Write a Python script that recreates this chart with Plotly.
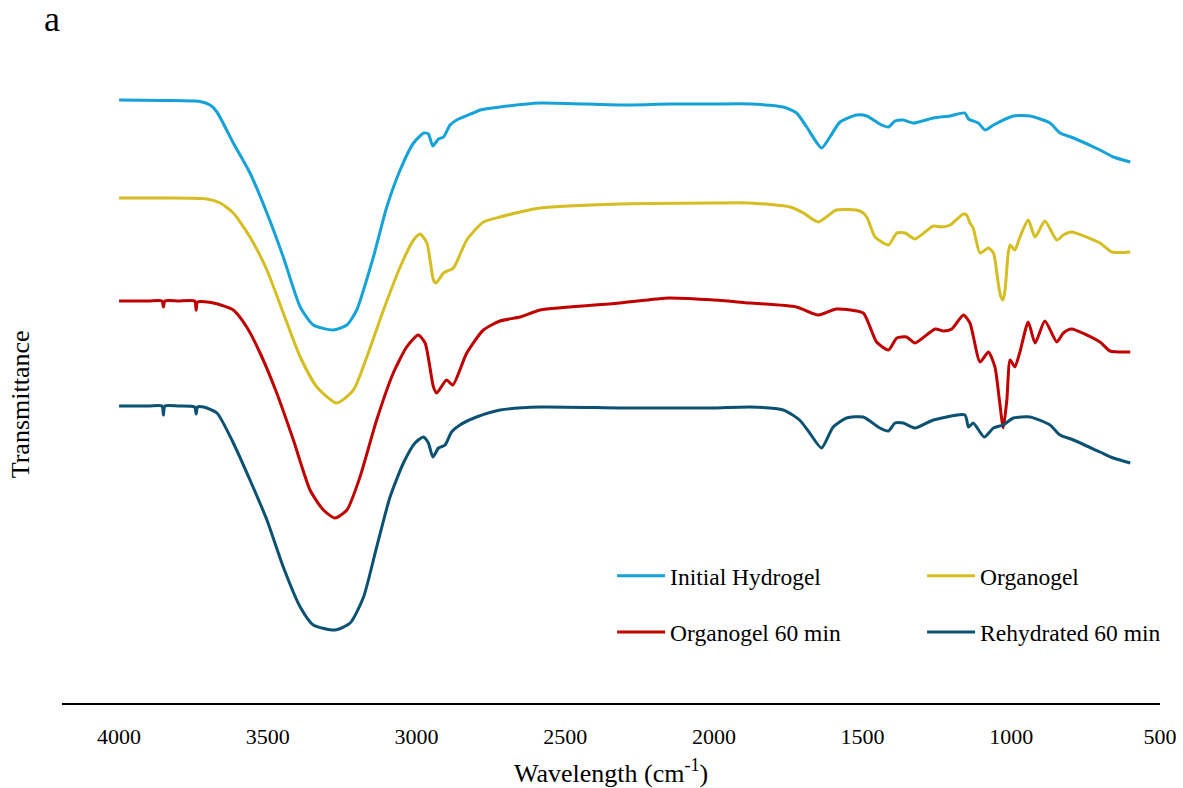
import plotly.graph_objects as go

# Wavenumber (cm-1) and transmittance (arbitrary, offset units)
wn_initial = [4000, 3850, 3728, 3694, 3671, 3616, 3560, 3503, 3448, 3391, 3347, 3280, 3234, 3201, 3145,
              3100, 3055, 3010, 2975, 2960, 2945, 2926, 2909, 2887, 2865, 2809, 2786, 2719, 2584, 2316,
              2150, 2000, 1878, 1767, 1722, 1688, 1638, 1610, 1576, 1520, 1486, 1436, 1413, 1391, 1363,
              1329, 1262, 1206, 1156, 1144, 1111, 1088, 1060, 993, 937, 870, 836, 791, 702, 657, 600]
t_initial = [700, 699.5, 698.5, 695, 688, 657, 627, 587, 543, 493, 475, 470, 475, 490, 543,
             593, 630, 657, 667, 666, 654, 661, 663, 675, 680, 687, 690, 693, 697, 695,
             696, 696, 696, 693, 687, 673, 652, 663, 678, 685, 684, 675, 673, 679, 680,
             677, 682, 684, 687, 681, 677, 670, 675, 684, 684, 677, 667, 662, 650, 643, 638]

wn_organo = [4000, 3850, 3705, 3660, 3616, 3560, 3503, 3448, 3391, 3335, 3268, 3212, 3167, 3111, 3055,
             3010, 2988, 2965, 2943, 2934, 2909, 2876, 2831, 2775, 2719, 2652, 2584, 2316, 2000, 1878,
             1744, 1699, 1649, 1588, 1509, 1486, 1458, 1413, 1385, 1357, 1324, 1262, 1234, 1206, 1161,
             1150, 1139, 1128, 1105, 1077, 1060, 1044, 1036, 1028, 1021, 1010, 1004, 988, 971, 943,
             920, 887, 847, 825, 798, 702, 662, 600]
t_organo = [602, 602, 601, 597, 587, 563, 530, 487, 443, 413, 397, 410, 443, 490, 533,
            560, 566, 557, 520, 517, 527, 532, 560, 578, 583, 588, 592, 596, 597, 597,
            593, 587, 578, 590, 589, 583, 563, 555, 567, 567, 561, 574, 573, 575, 586,
            585, 577, 572, 547, 552, 547, 517, 504, 500, 510, 548, 555, 550, 563, 580,
            563, 579, 560, 565, 568, 557, 548, 548]

wn_organo60 = [4000, 3900, 3856, 3851, 3846, 3800, 3746, 3741, 3736, 3683, 3616, 3571, 3526, 3470, 3414,
               3358, 3313, 3274, 3234, 3190, 3134, 3078, 3033, 2994, 2971, 2943, 2932, 2899, 2878, 2831,
               2775, 2719, 2652, 2584, 2316, 2150, 2000, 1878, 1722, 1649, 1588, 1498, 1475, 1453, 1413,
               1385, 1352, 1324, 1256, 1228, 1200, 1161, 1139, 1105, 1077, 1055, 1040, 1027, 1015, 1004,
               988, 971, 943, 920, 887, 847, 825, 798, 702, 668, 600]
t_organo60 = [499, 499, 499, 493, 499, 499, 499, 490, 498, 497, 490, 473, 447, 407, 360,
              310, 290, 282, 290, 323, 380, 427, 453, 465, 457, 413, 407, 420, 415, 447,
              470, 479, 483, 490, 497, 502, 500, 497, 493, 485, 491, 487, 473, 458, 450,
              462, 463, 457, 471, 469, 471, 485, 477, 438, 448, 433, 400, 372, 400, 440,
              433, 448, 478, 457, 479, 458, 467, 471, 458, 449, 448]

wn_rehyd = [4000, 3900, 3856, 3851, 3846, 3800, 3746, 3741, 3736, 3716, 3671, 3616, 3560, 3503, 3448,
            3391, 3347, 3274, 3223, 3178, 3134, 3089, 3044, 3005, 2977, 2960, 2945, 2926, 2904, 2882,
            2854, 2798, 2719, 2584, 2316, 2150, 2000, 1878, 1767, 1712, 1678, 1638, 1599, 1554, 1498,
            1442, 1413, 1391, 1363, 1324, 1262, 1156, 1144, 1128, 1091, 1060, 1027, 993, 937, 870,
            836, 791, 702, 657, 600]
t_rehyd = [394, 394, 394, 385, 394, 394, 393, 386, 393, 393, 387, 357, 320, 280, 233,
           193, 175, 170, 177, 203, 253, 303, 337, 357, 363, 357, 343, 352, 355, 368,
           375, 383, 390, 393, 392, 392, 392, 393, 390, 380, 367, 352, 373, 382, 383,
           372, 369, 377, 377, 372, 380, 385, 373, 377, 363, 372, 375, 382, 383, 375,
           365, 360, 348, 342, 337]

series_names = ["Initial Hydrogel", "Organogel", "Organogel 60 min", "Rehydrated 60 min"]
series_colors = ["#14A2D8", "#D4BE22", "#C00000", "#0B5171"]
series_legend = ["legend", "legend", "legend2", "legend2"]
series_x = [wn_initial, wn_organo, wn_organo60, wn_rehyd]
series_y = [t_initial, t_organo, t_organo60, t_rehyd]

x_ticks = [4000, 3500, 3000, 2500, 2000, 1500, 1000, 500]

FONT = "Liberation Serif, Times New Roman, serif"

fig = go.Figure()
for name, color, leg, xs, ys in zip(series_names, series_colors, series_legend, series_x, series_y):
    fig.add_trace(go.Scatter(x=xs, y=ys, mode="lines", name=name, legend=leg,
                             line=dict(color=color, width=3, shape="spline", smoothing=0.6)))

legend_common = dict(orientation="h", xanchor="left", yanchor="middle",
                     font=dict(family=FONT, size=23.5, color="black"),
                     bgcolor="rgba(0,0,0,0)", entrywidth=247, entrywidthmode="pixels",
                     itemwidth=48, traceorder="normal")

fig.update_layout(
    width=1183, height=788,
    margin=dict(l=62, r=23, t=60, b=85, autoexpand=False),
    paper_bgcolor="white", plot_bgcolor="white",
    font=dict(family=FONT, size=22, color="black"),
    showlegend=True,
    legend=dict(x=0.501, y=0.1975, **legend_common),
    legend2=dict(x=0.501, y=0.110, **legend_common),
    xaxis=dict(range=[4192, 500], tickvals=x_ticks, ticktext=[str(v) for v in x_ticks],
               showgrid=False, zeroline=False, showline=True, linecolor="black", linewidth=2,
               ticks="", ticklabelstandoff=13, tickfont=dict(family=FONT, size=22, color="black"),
               automargin=False),
    yaxis=dict(range=[97, 740], showgrid=False, zeroline=False, showline=False,
               showticklabels=False, ticks="", automargin=False),
    annotations=[
        dict(text="Wavelength (cm<sup>-1</sup>)", x=0.5, y=-0.107, xref="paper", yref="paper",
             showarrow=False, font=dict(family=FONT, size=26, color="black"),
             xanchor="center", yanchor="middle"),
        dict(text="Transmittance", x=-0.038, y=0.465, xref="paper", yref="paper",
             textangle=-90, showarrow=False, font=dict(family=FONT, size=26, color="black"),
             xanchor="center", yanchor="middle"),
        dict(text="a", x=-0.009, y=1.064, xref="paper", yref="paper", showarrow=False,
             font=dict(family=FONT, size=36, color="black"), xanchor="center", yanchor="middle"),
    ],
)

fig.write_html("out.html", config={"displayModeBar": False},
               post_script="document.body.style.margin='0px';document.body.style.overflow='hidden';")
